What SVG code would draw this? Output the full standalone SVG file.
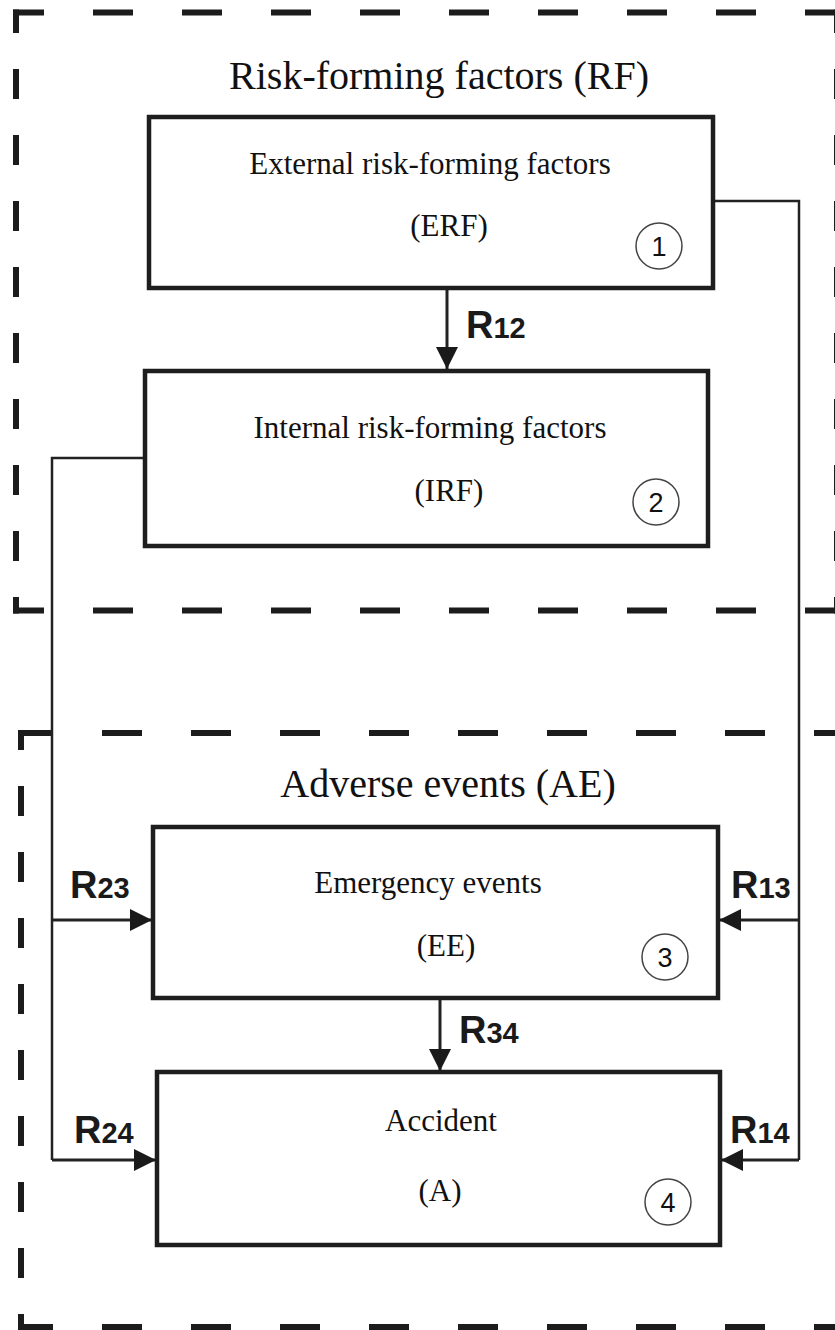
<svg xmlns="http://www.w3.org/2000/svg" width="835" height="1330" viewBox="0 0 835 1330">
<defs>
<style>
.dh{fill:none;stroke:#1c1c1c;stroke-width:6;stroke-dasharray:40 49}
.dv{fill:none;stroke:#1c1c1c;stroke-width:6;stroke-dasharray:30 36}
.box{fill:#fff;stroke:#1e1e1e;stroke-width:4.5}
.ln{fill:none;stroke:#222;stroke-width:2.5}
.ar{fill:none;stroke:#222;stroke-width:3;marker-end:url(#ah)}
.ttl{font-family:"Liberation Serif","Times New Roman",serif;font-size:40px;fill:#111;text-anchor:middle}
.bt{font-family:"Liberation Serif","Times New Roman",serif;font-size:31px;fill:#111;text-anchor:middle}
.num{font-family:"Liberation Sans",Arial,sans-serif;font-size:27px;fill:#111;text-anchor:middle}
.cir{fill:none;stroke:#444;stroke-width:1.5}
.rl{font-family:"Liberation Sans",Arial,sans-serif;font-weight:bold;fill:#1a1a1a}
.rR{font-size:38px}
.rn{font-size:29px}
</style>
<marker id="ah" markerUnits="userSpaceOnUse" markerWidth="22" markerHeight="22" refX="22" refY="11" orient="auto">
<path d="M0,0 L22,11 L0,22 Z" fill="#1a1a1a"/>
</marker>
</defs>
<rect width="835" height="1330" fill="#fff"/>

<g id="group-rf">
<path class="dh" d="M13,12.5 H845" stroke-dashoffset="9"/>
<path class="dh" d="M13,610.5 H845" stroke-dashoffset="9"/>
<path class="dv" d="M16,9.5 V613.5" stroke-dashoffset="6.5"/>
<path class="dv" d="M837,9.5 V613.5" stroke-dashoffset="6.5"/>
<text class="ttl" x="439" y="89">Risk-forming factors (RF)</text>
</g>

<g id="group-ae">
<path class="dh" d="M18,733 H845" stroke-dashoffset="5"/>
<path class="dh" d="M18,1327 H845" stroke-dashoffset="5"/>
<path class="dv" d="M21,730 V1330" stroke-dashoffset="10"/>
<text class="ttl" x="448" y="797">Adverse events (AE)</text>
</g>

<g id="connectors">
<polyline class="ln" points="713,201 799,201 799,1160"/>
<polyline class="ln" points="145,458 52,458 52,1160"/>
<line class="ar" x1="799" y1="920" x2="719" y2="920"/>
<line class="ar" x1="799" y1="1160" x2="721" y2="1160"/>
<line class="ar" x1="52" y1="920" x2="152" y2="920"/>
<line class="ar" x1="52" y1="1160" x2="156" y2="1160"/>
<line class="ar" x1="447" y1="290" x2="447" y2="369"/>
<line class="ar" x1="440" y1="1000" x2="440" y2="1071"/>
<text class="rl" x="466" y="338"><tspan class="rR">R</tspan><tspan class="rn">12</tspan></text>
<text class="rl" x="70" y="898"><tspan class="rR">R</tspan><tspan class="rn">23</tspan></text>
<text class="rl" x="731" y="898"><tspan class="rR">R</tspan><tspan class="rn">13</tspan></text>
<text class="rl" x="459" y="1043"><tspan class="rR">R</tspan><tspan class="rn">34</tspan></text>
<text class="rl" x="74" y="1143"><tspan class="rR">R</tspan><tspan class="rn">24</tspan></text>
<text class="rl" x="730" y="1143"><tspan class="rR">R</tspan><tspan class="rn">14</tspan></text>
</g>

<g id="node-1">
<rect class="box" x="149" y="117" width="564" height="171"/>
<text class="bt" x="430" y="174">External risk-forming factors</text>
<text class="bt" x="449" y="236">(ERF)</text>
<circle class="cir" cx="659" cy="246" r="23"/>
<text class="num" x="659" y="256">1</text>
</g>

<g id="node-2">
<rect class="box" x="145" y="371" width="563" height="175"/>
<text class="bt" x="430" y="438">Internal risk-forming factors</text>
<text class="bt" x="449" y="501">(IRF)</text>
<circle class="cir" cx="656" cy="502" r="23"/>
<text class="num" x="656" y="512">2</text>
</g>

<g id="node-3">
<rect class="box" x="153" y="827" width="565" height="171"/>
<text class="bt" x="428" y="893">Emergency events</text>
<text class="bt" x="446" y="956">(EE)</text>
<circle class="cir" cx="665" cy="957" r="23"/>
<text class="num" x="665" y="967">3</text>
</g>

<g id="node-4">
<rect class="box" x="157" y="1072" width="563" height="173"/>
<text class="bt" x="441" y="1131">Accident</text>
<text class="bt" x="440" y="1201">(A)</text>
<circle class="cir" cx="668" cy="1202" r="23"/>
<text class="num" x="668" y="1212">4</text>
</g>
</svg>
